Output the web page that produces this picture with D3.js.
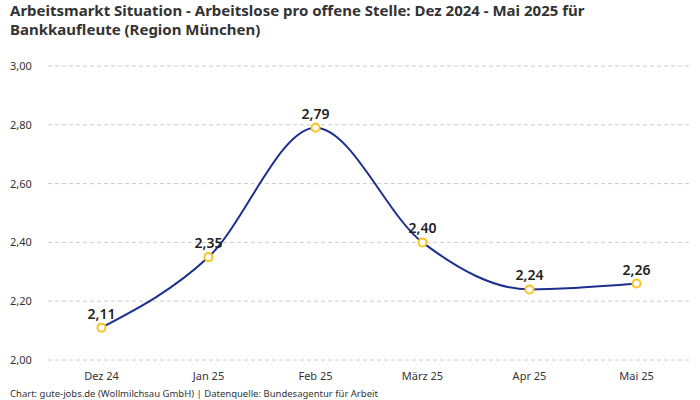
<!DOCTYPE html>
<html>
<head>
<meta charset="utf-8">
<script src="https://cdn.jsdelivr.net/npm/d3@7"></script>
<style>
  body { margin: 0; background: #fff; }
  svg { font-family: "Noto Sans", Roboto, sans-serif; }
</style>
</head>
<body>
<script>
// chart data
const months = ["Dez 24", "Jan 25", "Feb 25", "März 25", "Apr 25", "Mai 25"];
const values = [2.11, 2.35, 2.79, 2.40, 2.24, 2.26];
const yTicks = [2.0, 2.2, 2.4, 2.6, 2.8, 3.0];

const titleLines = [
  "Arbeitsmarkt Situation - Arbeitslose pro offene Stelle: Dez 2024 - Mai 2025 für",
  "Bankkaufleute (Region München)"
];
const footer = "Chart: gute-jobs.de (Wollmilchsau GmbH) | Datenquelle: Bundesagentur für Arbeit";

const width = 700;
const height = 400;
const fmt = v => v.toFixed(2).replace(".", ",");

var svg = d3.select("body").append("svg")
  .attr("width", width)
  .attr("height", height);

// title
svg.append("g").selectAll("text").data(titleLines).enter().append("text")
  .attr("x", 10)
  .attr("y", (d, i) => 16 + i * 19)
  .style("font-size", "15px")
  .style("font-weight", "bold")
  .style("fill", "#333")
  .text(d => d);

var xScale = d3.scaleBand().domain(months).range([48, 690]);
var yScale = d3.scaleLinear().domain([2.0, 3.0]).range([360, 66]);

// gridlines
svg.append("g").selectAll("line").data(yTicks).enter().append("line")
  .attr("x1", 48).attr("x2", 690)
  .attr("y1", d => yScale(d)).attr("y2", d => yScale(d))
  .style("stroke", "#ccc")
  .style("stroke-dasharray", "4,3");

// y labels
svg.append("g").selectAll("text").data(yTicks).enter().append("text")
  .attr("x", 10)
  .attr("y", d => yScale(d) + 4)
  .style("font-size", "11px")
  .style("fill", "#333")
  .text(d => fmt(d));

// x labels
svg.append("g").selectAll("text").data(months).enter().append("text")
  .attr("x", d => xScale(d) + xScale.bandwidth() / 2)
  .attr("y", 380)
  .attr("text-anchor", "middle")
  .style("font-size", "11px")
  .style("fill", "#333")
  .text(d => d);

var pts = months.map((m, i) => ({ m: m, v: values[i] }));

var line = d3.line()
  .x(d => xScale(d.m) + xScale.bandwidth() / 2)
  .y(d => yScale(d.v))
  .curve(d3.curveMonotoneX);

svg.append("path")
  .datum(pts)
  .attr("d", line)
  .style("fill", "none")
  .style("stroke", "#1c2f8f")
  .style("stroke-width", 2);

svg.append("g").selectAll("circle").data(pts).enter().append("circle")
  .attr("cx", d => xScale(d.m) + xScale.bandwidth() / 2)
  .attr("cy", d => yScale(d.v))
  .attr("r", 4)
  .style("fill", "#fff")
  .style("stroke", "#f7c325")
  .style("stroke-width", 2);

svg.append("g").selectAll("text").data(pts).enter().append("text")
  .attr("x", d => xScale(d.m) + xScale.bandwidth() / 2)
  .attr("y", d => yScale(d.v) - 9)
  .attr("text-anchor", "middle")
  .style("font-size", "14px")
  .style("font-weight", "600")
  .style("fill", "#222")
  .text(d => fmt(d.v));

// footer
svg.append("text")
  .attr("x", 10)
  .attr("y", 397)
  .style("font-size", "9.5px")
  .style("fill", "#333")
  .text(footer);
</script>
</body>
</html>
